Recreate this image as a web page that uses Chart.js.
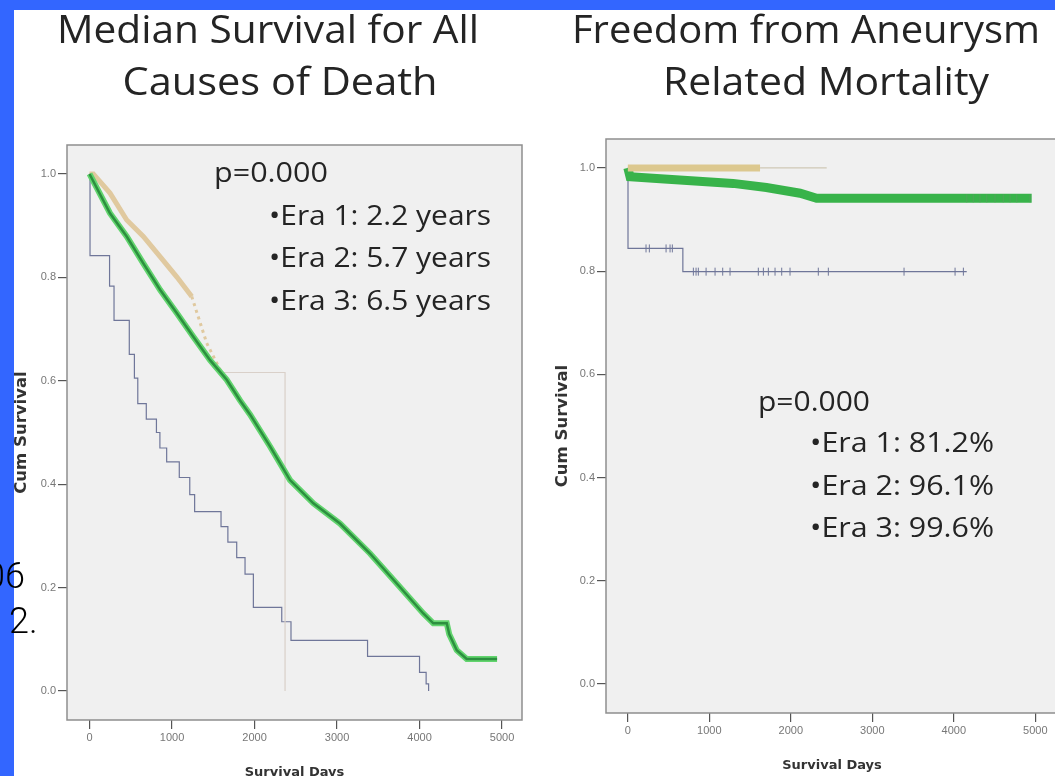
<!DOCTYPE html>
<html>
<head>
<meta charset="utf-8">
<title>Survival by era</title>
<script src="https://cdn.jsdelivr.net/npm/chart.js@4.4.1/dist/chart.umd.min.js"></script>
<style>
  html, body { margin: 0; padding: 0; }
  body { width: 1055px; height: 776px; overflow: hidden; position: relative; background: #3366ff; }
  #panel { position: absolute; left: 14px; top: 10px; width: 1041px; height: 766px; background: #fff; }
  canvas { position: absolute; top: 0; }
  #allCauses { left: 0; }
  #aneurysm { left: 530px; }
  .frag { position: absolute; font-family: Roboto, sans-serif; font-weight: 300; font-size: 36px; line-height: 36px; color: #000; z-index: 5; }
</style>
</head>
<body>
<div id="panel"></div>
<canvas id="allCauses" width="540" height="800"></canvas>
<canvas id="aneurysm" width="545" height="800"></canvas>
<div class="frag" style="left:-15px; top:558px;">06</div>
<div class="frag" style="left:9px; top:603px;">2.</div>
<script>
// tick labels
const dayTicks = [0, 1000, 2000, 3000, 4000, 5000];
const survTicks = [0, 0.2, 0.4, 0.6, 0.8, 1.0];

// median survival, all causes of death (Kaplan-Meier)
const allEra1Days = [0, 6, 243, 297, 482, 544, 585, 688, 811, 853, 935, 1088, 1215, 1274, 1594, 1677, 1784, 1885, 1986, 2330, 2442, 3370, 4000, 4080, 4110];
const allEra1Surv = [1.0, 0.842, 0.783, 0.717, 0.651, 0.605, 0.556, 0.526, 0.500, 0.470, 0.443, 0.413, 0.380, 0.347, 0.318, 0.288, 0.258, 0.226, 0.162, 0.134, 0.098, 0.067, 0.036, 0.014, 0.0];
const allEra2Days = [0, 46, 248, 451, 652, 855, 1057, 1239, 1420, 1600, 2370, 2370];
const allEra2Surv = [1.0, 1.0, 0.963, 0.911, 0.879, 0.840, 0.801, 0.763, 0.673, 0.616, 0.616, 0.0];
const allEra3Days = [0, 248, 451, 652, 855, 1057, 1258, 1461, 1663, 1824, 1945, 2188, 2430, 2713, 3036, 3400, 3724, 4046, 4167, 4330, 4360, 4451, 4572, 4940];
const allEra3Surv = [1.0, 0.924, 0.879, 0.827, 0.776, 0.731, 0.685, 0.640, 0.602, 0.562, 0.535, 0.473, 0.408, 0.363, 0.324, 0.266, 0.208, 0.150, 0.131, 0.131, 0.110, 0.079, 0.062, 0.062];

// freedom from aneurysm related mortality
const aneEra1Days = [0, 2, 675, 4158];
const aneEra1Surv = [1.0, 0.844, 0.799, 0.799];
const aneEra1CensorDays = [223, 264, 469, 518, 546, 804, 837, 865, 960, 1070, 1164, 1254, 1601, 1663, 1724, 1806, 1888, 1990, 2337, 2460, 3389, 4015, 4117];
const aneEra1CensorSurv = [0.844, 0.844, 0.844, 0.844, 0.844, 0.799, 0.799, 0.799, 0.799, 0.799, 0.799, 0.799, 0.799, 0.799, 0.799, 0.799, 0.799, 0.799, 0.799, 0.799, 0.799, 0.799, 0.799];
const aneEra2Days = [0, 1622, 2440];
const aneEra2Surv = [1.0, 1.0, 1.0];
const aneEra3Days = [0, 27, 400, 1291, 1700, 2113, 2317, 4955];
const aneEra3Surv = [1.0, 0.983, 0.979, 0.970, 0.962, 0.951, 0.941, 0.941];
const aneEra3CensorDays = [4158, 4239, 4321, 4403, 4505, 4607, 4690, 4772, 4935];
const aneEra3CensorSurv = [0.941, 0.941, 0.941, 0.941, 0.941, 0.941, 0.941, 0.941, 0.941];

// slide text
const leftTitle = ['Median Survival for All', 'Causes of Death'];
const rightTitle = ['Freedom from Aneurysm', 'Related Mortality'];
const leftNotes = ['p=0.000', '\u2022Era 1: 2.2 years', '\u2022Era 2: 5.7 years', '\u2022Era 3: 6.5 years'];
const rightNotes = ['p=0.000', '\u2022Era 1: 81.2%', '\u2022Era 2: 96.1%', '\u2022Era 3: 99.6%'];

const pt = (days, surv) => days.map((d, i) => ({ x: d, y: surv[i] }));

// text squeezed/stretched to the width it has on the slide
function fitText(ctx, text, x, y, width, font, align) {
    ctx.save();
    ctx.font = font;
    const w = ctx.measureText(text).width;
    ctx.translate(x, y);
    ctx.scale(width / w, 1);
    ctx.textAlign = align;
    ctx.textBaseline = 'alphabetic';
    ctx.fillStyle = '#242424';
    ctx.fillText(text, 0, 0);
    ctx.restore();
}

const plotFrame = {
    id: 'plotFrame',
    beforeDatasetsDraw(chart) {
        const { ctx, chartArea: a } = chart;
        ctx.save();
        ctx.fillStyle = '#f0f0f0';
        ctx.fillRect(a.left, a.top, a.width, a.height);
        ctx.strokeStyle = '#8e8e8e';
        ctx.lineWidth = 1.5;
        ctx.strokeRect(a.left, a.top, a.width, a.height);
        ctx.restore();
    }
};

const slideText = (items) => ({
    id: 'slideText',
    afterDraw(chart) {
        items.forEach(t => fitText(chart.ctx, t.text, t.x, t.y, t.w, t.font, t.align));
    }
});

function kmScales(o) {
    return {
        x: {
            type: 'linear', min: o.xMin, max: o.xMax,
            afterBuildTicks: s => { s.ticks = dayTicks.map(v => ({ value: v })); },
            afterFit: s => { s.height = o.xHeight; },
            border: { display: false },
            grid: { drawOnChartArea: false, tickLength: 9, color: '#555', lineWidth: 1.2 },
            ticks: { color: '#777', font: { family: 'Liberation Sans', size: 11 }, padding: 2, maxRotation: 0, autoSkip: false, callback: v => String(v) },
            title: { display: true, text: 'Survival Days', color: '#333', font: { family: 'DejaVu Sans', size: 13, weight: 'bold' }, padding: { top: 0, bottom: o.xTitlePad } }
        },
        y: {
            type: 'linear', min: -0.056, max: 1.056,
            afterBuildTicks: s => { s.ticks = survTicks.map(v => ({ value: v })); },
            afterFit: s => { s.width = o.yWidth; },
            border: { display: false },
            grid: { drawOnChartArea: false, tickLength: 9, color: '#555', lineWidth: 1.2 },
            ticks: { color: '#777', font: { family: 'Liberation Sans', size: 11 }, padding: 2, autoSkip: false, callback: v => v.toFixed(1) },
            title: { display: true, text: 'Cum Survival', color: '#333', font: { family: 'DejaVu Sans', size: 16.5, weight: 'bold' }, padding: { top: o.yTitlePad, bottom: 0 } }
        }
    };
}

const common = {
    responsive: false,
    animation: false,
    devicePixelRatio: 1,
    events: [],
    elements: { point: { radius: 0 }, line: { tension: 0 } },
    plugins: { legend: { display: false }, tooltip: { enabled: false } }
};

const T = 'Open Sans';

new Chart(document.getElementById('allCauses'), {
    type: 'line',
    data: {
        datasets: [
            { label: 'Era 1', data: pt(allEra1Days, allEra1Surv), stepped: true, borderColor: '#6f7699', borderWidth: 1.2, order: 3 },
            {
                label: 'Era 2', data: pt(allEra2Days, allEra2Surv), borderColor: 'rgba(222,196,150,0.9)', borderWidth: 5, order: 2,
                segment: {
                    borderWidth: c => c.p0.parsed.x < 1239 ? 5 : (c.p0.parsed.x < 1600 ? 3 : 1.2),
                    borderColor: c => c.p0.parsed.x < 1600 ? 'rgba(222,196,150,0.9)' : '#d9d0c9',
                    borderDash: c => (c.p0.parsed.x >= 1239 && c.p0.parsed.x < 1600) ? [3, 4] : undefined
                }
            },
            { label: 'Era 3', data: pt(allEra3Days, allEra3Surv), borderColor: '#62d46e', borderWidth: 6, order: 1 },
            { label: 'Era 3 core', data: pt(allEra3Days, allEra3Surv), borderColor: '#2c8f3f', borderWidth: 2.5, order: 0 }
        ]
    },
    options: {
        ...common,
        layout: { padding: { top: 145, right: 18, bottom: 0, left: 0 } },
        scales: kmScales({ xMin: -273, xMax: 5242, xHeight: 80, yWidth: 67, xTitlePad: 20, yTitlePad: 12 })
    },
    plugins: [plotFrame, slideText([
        { text: leftTitle[0], x: 268, y: 43, w: 422, font: `39px "${T}"`, align: 'center' },
        { text: leftTitle[1], x: 280, y: 95, w: 315, font: `39px "${T}"`, align: 'center' },
        { text: leftNotes[0], x: 214, y: 182, w: 114, font: `27px "${T}"`, align: 'left' },
        { text: leftNotes[1], x: 269, y: 225, w: 222, font: `27px "${T}"`, align: 'left' },
        { text: leftNotes[2], x: 269, y: 267, w: 222, font: `27px "${T}"`, align: 'left' },
        { text: leftNotes[3], x: 269, y: 310, w: 222, font: `27px "${T}"`, align: 'left' }
    ])]
});

new Chart(document.getElementById('aneurysm'), {
    type: 'line',
    data: {
        datasets: [
            { label: 'Era 1', data: pt(aneEra1Days, aneEra1Surv), stepped: true, borderColor: '#6f7699', borderWidth: 1.2, order: 4 },
            {
                label: 'Era 1 censored', data: pt(aneEra1CensorDays, aneEra1CensorSurv), showLine: false, order: 3,
                pointStyle: 'line', pointRotation: 90, pointRadius: 4, pointBorderColor: '#6f7699', pointBorderWidth: 1
            },
            {
                label: 'Era 3', data: pt(aneEra3Days, aneEra3Surv), borderColor: '#38b34a', borderWidth: 9, order: 2,
                segment: {
                    borderWidth: c => c.p0.parsed.x < 4113 ? 9 : 2,
                    borderColor: c => c.p0.parsed.x < 4113 ? '#38b34a' : '#5cbc66'
                }
            },
            {
                label: 'Era 3 censored', data: pt(aneEra3CensorDays, aneEra3CensorSurv), showLine: false, order: 1,
                pointStyle: 'line', pointRotation: 90, pointRadius: 4, pointBorderColor: '#4ca657', pointBorderWidth: 1.2
            },
            {
                label: 'Era 2', data: pt(aneEra2Days, aneEra2Surv), borderColor: '#dcc88f', borderWidth: 7, order: 0,
                segment: {
                    borderWidth: c => c.p0.parsed.x < 1622 ? 7 : 1.2,
                    borderColor: c => c.p0.parsed.x < 1622 ? '#dcc88f' : '#cfc8b6'
                }
            }
        ]
    },
    options: {
        ...common,
        layout: { padding: { top: 139, right: 17, bottom: 0, left: 0 } },
        scales: kmScales({ xMin: -268, xMax: 5278, xHeight: 87, yWidth: 76, xTitlePad: 27, yTitlePad: 23 })
    },
    plugins: [plotFrame, slideText([
        { text: rightTitle[0], x: 276, y: 43, w: 468, font: `39px "${T}"`, align: 'center' },
        { text: rightTitle[1], x: 296, y: 95, w: 326, font: `39px "${T}"`, align: 'center' },
        { text: rightNotes[0], x: 228, y: 411, w: 112, font: `27px "${T}"`, align: 'left' },
        { text: rightNotes[1], x: 280, y: 452, w: 184, font: `27px "${T}"`, align: 'left' },
        { text: rightNotes[2], x: 280, y: 495, w: 184, font: `27px "${T}"`, align: 'left' },
        { text: rightNotes[3], x: 280, y: 537, w: 184, font: `27px "${T}"`, align: 'left' }
    ])]
});
</script>
</body>
</html>
